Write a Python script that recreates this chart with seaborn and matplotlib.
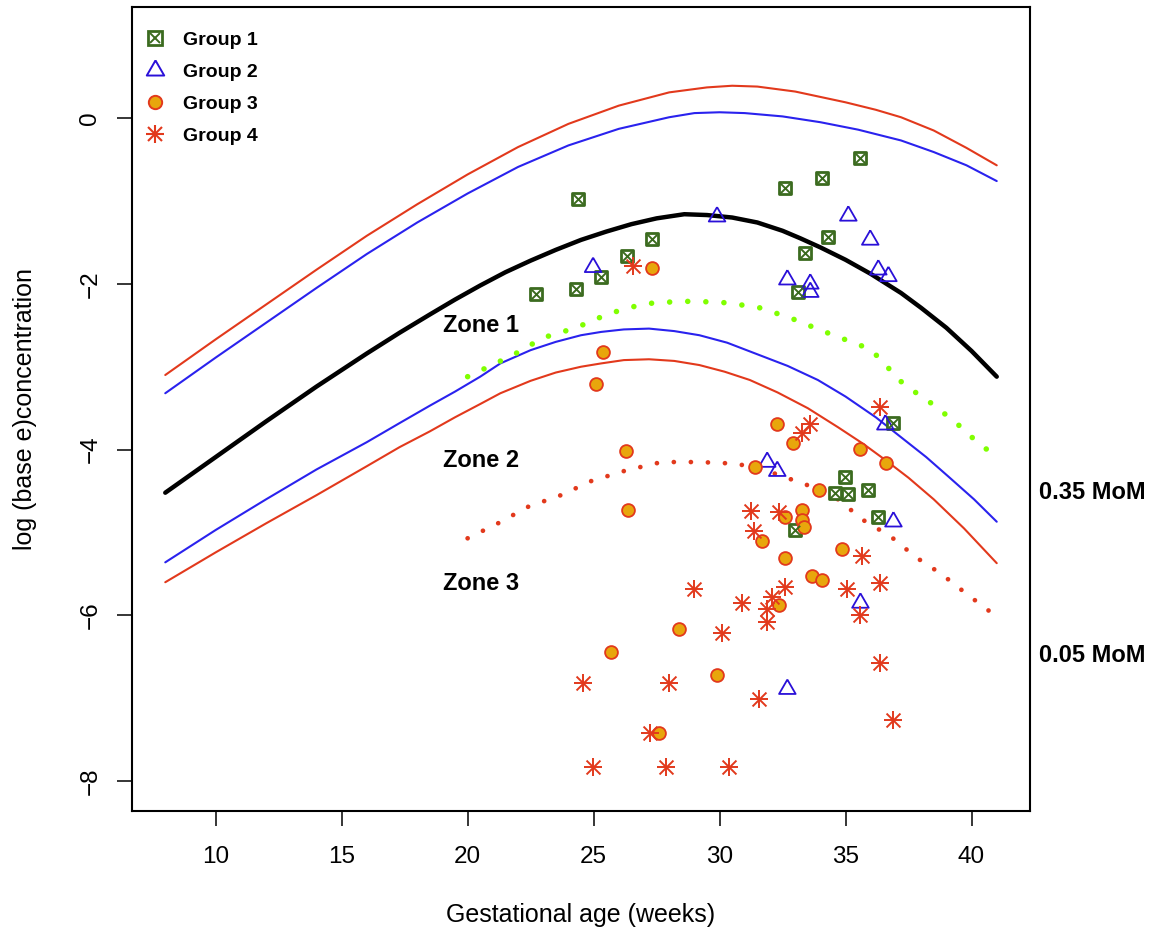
import numpy as np
import pandas as pd
import matplotlib
matplotlib.use('Agg')
import matplotlib.pyplot as plt
import seaborn as sns
from matplotlib.legend_handler import HandlerTuple
from matplotlib.lines import Line2D

sns.set_theme(style='white')
plt.rcParams['font.family'] = ['Liberation Sans', 'DejaVu Sans']
plt.rcParams['text.color'] = 'black'
plt.rcParams['axes.labelcolor'] = 'black'

# ---------------- curves ----------------
black_x = [8, 10, 12, 14, 16, 17.3, 18.5, 19.5, 20.5, 21.5, 22.5, 23.5, 24.5, 25.5, 26.5, 27.5, 28.6,
           29.5, 30.5, 31.5, 32.5, 33.2, 34, 35, 36, 37.2, 38, 39, 40, 41]
black_y = [-4.52, -4.09, -3.66, -3.24, -2.84, -2.59, -2.37, -2.19, -2.02, -1.86, -1.72, -1.59, -1.47, -1.37,
           -1.28, -1.21, -1.16, -1.17, -1.20, -1.26, -1.36, -1.45, -1.56, -1.71, -1.88, -2.11, -2.29, -2.53,
           -2.81, -3.12]

red_up_x = [8, 10, 12, 14, 16, 18, 20, 22, 24, 26, 28, 29.5, 30.5, 31.5, 33, 35, 36.2, 37.2, 38.5, 39.8, 41]
red_up_y = [-3.10, -2.67, -2.25, -1.83, -1.42, -1.04, -0.68, -0.35, -0.07, 0.15, 0.31, 0.37, 0.39, 0.38,
            0.32, 0.19, 0.10, 0.01, -0.15, -0.36, -0.57]

blue_up_x = [8, 10, 12, 14, 16, 18, 20, 22, 24, 26, 28, 29, 30, 31, 32.5, 34, 35.5, 37.2, 38.5, 39.8, 41]
blue_up_y = [-3.32, -2.89, -2.47, -2.05, -1.64, -1.26, -0.91, -0.59, -0.33, -0.13, 0.01, 0.06, 0.07, 0.06,
             0.02, -0.05, -0.14, -0.27, -0.41, -0.57, -0.76]

blue_lo_x = [8, 10, 12, 14, 16, 17.3, 18.5, 19.5, 20.5, 21.3, 22.5, 23.5, 24.5, 25.3, 26.2, 27.2, 28.2,
             29.2, 30.3, 31.5, 32.7, 33.9, 35, 36.2, 37.2, 38.2, 39.1, 40.1, 41]
blue_lo_y = [-5.36, -4.97, -4.60, -4.24, -3.91, -3.68, -3.47, -3.30, -3.12, -2.96, -2.80, -2.70, -2.62,
             -2.58, -2.55, -2.54, -2.57, -2.62, -2.71, -2.85, -2.99, -3.16, -3.36, -3.61, -3.85, -4.09,
             -4.33, -4.60, -4.87]

red_lo_x = [8, 10, 12, 14, 16, 17.3, 18.5, 19.5, 20.5, 21.3, 22.5, 23.5, 24.5, 25.3, 26.2, 27.2, 28.2,
            29.2, 30.2, 31.2, 32.3, 33.5, 34.7, 35.7, 36.6, 37.5, 38.5, 39.7, 41]
red_lo_y = [-5.60, -5.24, -4.89, -4.55, -4.20, -3.97, -3.78, -3.61, -3.45, -3.32, -3.17, -3.07, -3.00,
            -2.96, -2.92, -2.91, -2.93, -2.98, -3.06, -3.16, -3.31, -3.50, -3.73, -3.93, -4.13, -4.34,
            -4.60, -4.95, -5.37]

green_dot_x = [20.0, 21.8, 23.0, 24.3, 25.6, 27.0, 28.5, 30.0, 31.5, 32.8, 34.1, 36.0, 37.3, 38.4, 39.4, 40.3, 40.8]
green_dot_y = [-3.12, -2.86, -2.65, -2.53, -2.36, -2.24, -2.21, -2.22, -2.28, -2.41, -2.57, -2.79, -3.21, -3.44, -3.68, -3.93, -4.04]

red_dot_x = [20.0, 21.2, 22.4, 23.7, 24.9, 26.3, 27.7, 29.2, 30.7, 32.2, 33.5, 34.7, 35.7, 36.8, 37.8, 38.8, 39.8, 40.8]
red_dot_y = [-5.07, -4.89, -4.69, -4.55, -4.38, -4.25, -4.15, -4.15, -4.17, -4.29, -4.43, -4.60, -4.85, -5.05, -5.30, -5.50, -5.74, -5.97]

# ---------------- scatter groups ----------------
g1_x = [24.38, 27.32, 26.33, 25.30, 24.30, 22.71, 32.61, 34.08, 35.59, 34.31, 33.40, 33.12, 36.90, 34.99, 34.59, 35.11, 35.90, 36.30, 33.00]
g1_y = [-0.98, -1.46, -1.67, -1.92, -2.06, -2.12, -0.84, -0.72, -0.48, -1.44, -1.63, -2.10, -3.68, -4.33, -4.52, -4.54, -4.49, -4.81, -4.97]

g2_x = [29.90, 24.98, 35.11, 35.98, 36.30, 36.70, 32.69, 33.60, 33.60, 36.58, 31.89, 32.29, 36.90, 35.59, 32.69]
g2_y = [-1.19, -1.80, -1.18, -1.47, -1.83, -1.91, -1.95, -2.00, -2.10, -3.70, -4.15, -4.26, -4.87, -5.85, -6.89]

g3_x = [27.32, 25.38, 25.10, 26.29, 26.37, 32.29, 32.92, 35.59, 36.62, 31.41, 33.96, 32.61, 33.28, 33.28, 33.36,
        31.69, 34.87, 32.61, 33.68, 34.08, 32.37, 28.39, 25.69, 29.90, 27.60]
g3_y = [-1.81, -2.82, -3.21, -4.02, -4.73, -3.69, -3.92, -3.99, -4.16, -4.21, -4.49, -4.81, -4.73, -4.85, -4.93,
        -5.10, -5.20, -5.31, -5.52, -5.57, -5.87, -6.16, -6.44, -6.72, -7.42]

g4_x = [26.57, 36.38, 33.60, 33.28, 31.26, 32.37, 31.37, 35.67, 36.38, 35.07, 32.61, 32.09, 30.90, 31.89, 31.89,
        35.59, 28.99, 30.10, 36.38, 24.58, 28.00, 31.57, 27.24, 36.90, 24.98, 27.88, 30.38]
g4_y = [-1.79, -3.49, -3.69, -3.80, -4.74, -4.75, -4.98, -5.28, -5.61, -5.68, -5.66, -5.78, -5.85, -5.92, -6.08,
        -5.99, -5.68, -6.21, -6.57, -6.82, -6.82, -7.01, -7.42, -7.26, -7.83, -7.83, -7.83]

group_labels = ['Group 1', 'Group 2', 'Group 3', 'Group 4']
zone_labels = ['Zone 1', 'Zone 2', 'Zone 3']
zone_pos_y = [-2.50, -4.13, -5.61]
mom_labels = ['0.35 MoM', '0.05 MoM']
mom_pos_y = [-4.52, -6.48]
x_ticks = [10, 15, 20, 25, 30, 35, 40]
y_ticks = [0, -2, -4, -6, -8]

# ---------------- colours ----------------
C_RED = '#e2391c'
C_BLUE = '#2a22ee'
C_GREEN = '#3b6b1f'
C_ORANGE = '#e8a60c'
C_LIME = '#80ff00'
C_TRI = '#2a10d8'

fig = plt.figure(figsize=(11.63, 9.38), dpi=100)
ax = fig.add_axes([132 / 1163, 1 - 811 / 938, 898 / 1163, 804 / 938])

# curves
line_kw = dict(ax=ax, sort=False, estimator=None)
sns.lineplot(x=red_up_x, y=red_up_y, color=C_RED, lw=1.5, **line_kw)
sns.lineplot(x=blue_up_x, y=blue_up_y, color=C_BLUE, lw=1.5, **line_kw)
sns.lineplot(x=black_x, y=black_y, color='black', lw=3.2, **line_kw)
sns.lineplot(x=blue_lo_x, y=blue_lo_y, color=C_BLUE, lw=1.5, **line_kw)
sns.lineplot(x=red_lo_x, y=red_lo_y, color=C_RED, lw=1.5, **line_kw)
sns.lineplot(x=green_dot_x, y=green_dot_y, color=C_LIME, lw=4.0, linestyle=(0, (0.01, 3.25)),
             dash_capstyle='round', **line_kw)
sns.lineplot(x=red_dot_x, y=red_dot_y, color=C_RED, lw=3.4, linestyle=(0, (0.01, 3.6)),
             dash_capstyle='round', **line_kw)

# equilateral triangle marker
tri = [(0, 1.1547), (-1, -0.5774), (1, -0.5774), (0, 1.1547)]

# scatter groups
sns.scatterplot(x=g1_x, y=g1_y, ax=ax, marker='s', s=85, facecolor='white', edgecolor=C_GREEN,
                linewidth=2.0, zorder=5)
ax.scatter(g1_x, g1_y, marker='x', s=45, color=C_GREEN, linewidth=1.4, zorder=6)
sns.scatterplot(x=g2_x, y=g2_y, ax=ax, marker=tri, s=190, facecolor='none', edgecolor=C_TRI,
                linewidth=1.3, zorder=5)
sns.scatterplot(x=g3_x, y=g3_y, ax=ax, marker='o', s=85, facecolor=C_ORANGE, edgecolor=C_RED,
                linewidth=1.3, zorder=5)
sns.scatterplot(x=g4_x, y=g4_y, ax=ax, marker='+', s=160, color=C_RED, linewidth=1.4, zorder=5)
ax.scatter(g4_x, g4_y, marker='x', s=100, color=C_RED, linewidth=1.4, zorder=5)

# legend (composite handles)
l1a = Line2D([], [], ls='none', marker='s', ms=9.6, mfc='white', mec=C_GREEN, mew=2.0)
l1b = Line2D([], [], ls='none', marker='x', ms=6.8, color=C_GREEN, mew=1.4)
l2 = Line2D([], [], ls='none', marker=tri, ms=14.5, mfc='none', mec=C_TRI, mew=1.4)
l3 = Line2D([], [], ls='none', marker='o', ms=9.6, mfc=C_ORANGE, mec=C_RED, mew=1.4)
l4a = Line2D([], [], ls='none', marker='+', ms=13, color=C_RED, mew=1.5)
l4b = Line2D([], [], ls='none', marker='x', ms=10.2, color=C_RED, mew=1.5)
leg = ax.legend(handles=[(l1a, l1b), l2, l3, (l4a, l4b)], labels=group_labels,
                handler_map={tuple: HandlerTuple(ndivide=1, pad=0)},
                loc='upper left', bbox_to_anchor=(0.0148, 0.9693), frameon=False,
                prop={'weight': 'bold', 'size': 14}, handlelength=1.0, handletextpad=0.94,
                labelspacing=0.73, borderpad=0, borderaxespad=0)
for t in leg.get_texts():
    t.set_color('black')

# texts
for lab, yy in zip(zone_labels, zone_pos_y):
    ax.text(19.02, yy, lab, fontsize=17, fontweight='bold', ha='left', va='center', color='black', zorder=7)
for lab, yy in zip(mom_labels, mom_pos_y):
    ax.text(42.66, yy, lab, fontsize=17, fontweight='bold', ha='left', va='center', color='black',
            clip_on=False)

ax.set_xlim(6.68, 42.32)
ax.set_ylim(-8.36, 1.34)
ax.set_xticks(x_ticks)
ax.set_yticks(y_ticks)
ax.set_xticklabels([str(t) for t in x_ticks])
ax.set_yticklabels([('\u2212' + str(-t)) if t < 0 else str(t) for t in y_ticks])
ax.tick_params(axis='both', direction='out', length=11, width=1.1, labelsize=17.5,
               color='black', labelcolor='black', bottom=True, left=True, top=False, right=False)
ax.tick_params(axis='x', pad=14)
ax.tick_params(axis='y', pad=11, labelrotation=90)
for lbl in ax.get_yticklabels():
    lbl.set_va('center')
for sp in ax.spines.values():
    sp.set_visible(True)
    sp.set_color('black')
    sp.set_linewidth(1.5)
ax.grid(False)

ax.set_xlabel('Gestational age (weeks)', fontsize=18, color='black')
ax.set_ylabel('log (base e)concentration', fontsize=18, color='black')
ax.xaxis.set_label_coords(0.5, -(903 - 811) / 804)
ax.yaxis.set_label_coords((37 - 132) / 898, 0.5)

fig.savefig('out.png', dpi=100, facecolor='white')
